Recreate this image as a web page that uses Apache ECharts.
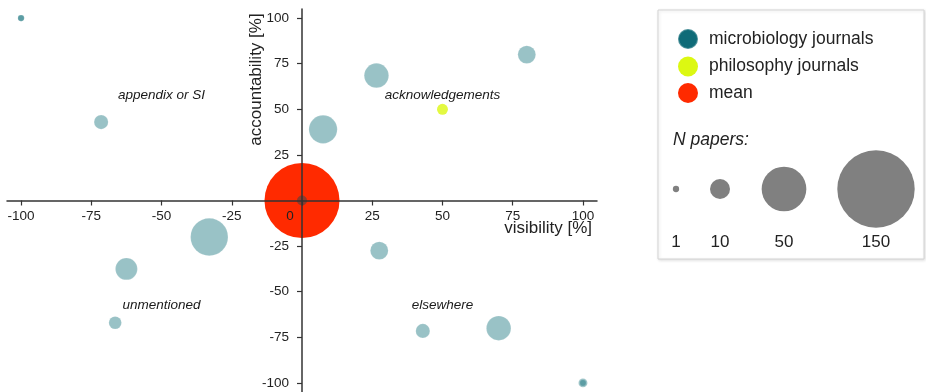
<!DOCTYPE html>
<html><head><meta charset="utf-8">
<script src="https://cdn.jsdelivr.net/npm/echarts@6/dist/echarts.min.js"></script>
<style>html,body{margin:0;padding:0;background:#fff}#c{width:926px;height:392px}</style>
</head><body><div id="c"></div>
<script>
// ---- data ----
const microVisibility     = [-100, -100, -71.5, 7.5, 26.5, 80, -33, -62.5, -66.5, 27.5, 43, 70, 100, 100];
const microAccountability = [100, 100, 43, 39, 68.5, 80, -20, -37.5, -67, -27.5, -71.5, -70, -100, -100];
const microPapers         = [1, 1, 5, 20, 15, 8, 35, 12, 4, 8, 5, 15, 2, 1];
const philoVisibility     = [50];
const philoAccountability = [50];
const philoPapers         = [3];
const meanVisibility      = [0];
const meanAccountability  = [0];
const meanPapers          = [141];
const originVisibility    = [0];
const originAccountability= [0];
const xTicks = [-100, -75, -50, -25, 0, 25, 50, 75, 100];
const yTicks = [-100, -75, -50, -25, 25, 50, 75, 100];
const sizeLegendPapers = [1, 10, 50, 150];
const annotationTexts = ['appendix or SI', 'acknowledgements', 'unmentioned', 'elsewhere'];
const annotationVisibility = [-50, 50, -50, 50];
const annotationAccountability = [57.5, 57.5, -57.5, -57.5];
const seriesNames = ['microbiology journals', 'philosophy journals', 'mean'];

// ---- styling ----
const FONT = "'Liberation Sans', Arial, Helvetica, sans-serif";
const C_MICRO = '#0f6b78', C_PHILO = '#dcf812', C_MEAN = '#ff2a00';
const sizeOf = n => 6.32 * Math.sqrt(n);
const pts = (xs, ys, ns) => xs.map((x, i) => [x, ys[i], ns ? ns[i] : 0]);

const chart = echarts.init(document.getElementById('c'), null, {renderer: 'canvas'});

// grid geometry (layout only)
const G = {left: 7, right: 329, top: 9, bottom: 0};
const gridW = 926 - G.left - G.right, gridH = 392 - G.top - G.bottom;
const xZeroOffset = -gridW * (105 / 210);   // move y axis from left edge to x = 0
const yZeroOffset = -gridH * (105 / 210);   // move x axis from bottom edge to y = 0

const sizeLegendX = [676, 720, 784, 876];
const graphics = [
  {type: 'rect', z: 1, shape: {x: 658, y: 10, width: 266, height: 249},
   style: {fill: '#fff', stroke: '#d4d4d4', lineWidth: 1, shadowBlur: 3, shadowColor: 'rgba(0,0,0,0.12)', shadowOffsetX: 1, shadowOffsetY: 1}},
  {type: 'text', z: 5, x: 592, y: 228, style: {text: 'visibility [%]', fontFamily: FONT, fontSize: 17, fill: '#222', align: 'right', verticalAlign: 'middle'}},
  {type: 'text', z: 5, x: 256.5, y: 79.5, rotation: Math.PI / 2, style: {text: 'accountability [%]', fontFamily: FONT, fontSize: 17, fill: '#222', align: 'center', verticalAlign: 'middle'}},
  {type: 'text', z: 5, x: 673, y: 140, style: {text: 'N papers:', fontFamily: FONT, fontSize: 17.5, fontStyle: 'italic', fill: '#222', align: 'left', verticalAlign: 'middle'}}
];
sizeLegendPapers.forEach((n, i) => {
  graphics.push({type: 'circle', z: 5, shape: {cx: sizeLegendX[i], cy: 189, r: sizeOf(n) / 2}, style: {fill: '#808080'}});
  graphics.push({type: 'text', z: 5, x: sizeLegendX[i], y: 242, style: {text: String(n), fontFamily: FONT, fontSize: 17, fill: '#222', align: 'center', verticalAlign: 'middle'}});
});

const axisCommon = {
  type: 'value', min: -105, max: 105, z: 10,
  splitLine: {show: false},
  axisLine: {onZero: false, lineStyle: {color: '#333', width: 1.5}},
  axisTick: {length: 5, lineStyle: {color: '#333', width: 1.2}},
};

chart.setOption({
  animation: false,
  backgroundColor: '#fff',
  textStyle: {fontFamily: FONT},
  grid: Object.assign({containLabel: false, outerBoundsMode: 'none'}, G),
  xAxis: Object.assign({}, axisCommon, {
    position: 'bottom', offset: yZeroOffset,
    axisTick: Object.assign({}, axisCommon.axisTick, {customValues: xTicks}),
    axisLabel: {customValues: xTicks, margin: 8.5, fontSize: 13.5, color: '#222', fontFamily: FONT,
      formatter: v => v === 0 ? '{z|0}' : String(v),
      rich: {z: {fontSize: 13.5, color: '#222', fontFamily: FONT, padding: [0, 24, 0, 0]}}}
  }),
  yAxis: Object.assign({}, axisCommon, {
    position: 'left', offset: xZeroOffset,
    axisTick: Object.assign({}, axisCommon.axisTick, {customValues: yTicks}),
    axisLabel: {customValues: yTicks, margin: 13, fontSize: 13.5, color: '#222', fontFamily: FONT}
  }),
  legend: {
    orient: 'vertical', left: 672, top: 23, z: 6,
    itemWidth: 20, itemHeight: 20, itemGap: 6.5, icon: 'circle',
    textStyle: {fontSize: 17.5, color: '#222', fontFamily: FONT, padding: [0, 0, 0, 6]},
    data: [
      {name: seriesNames[0], itemStyle: {color: C_MICRO, opacity: 1}},
      {name: seriesNames[1], itemStyle: {color: C_PHILO, opacity: 1}},
      {name: seriesNames[2], itemStyle: {color: C_MEAN, opacity: 1}}
    ]
  },
  graphic: graphics,
  series: [
    {name: seriesNames[2], type: 'scatter', z: 2,
     data: pts(meanVisibility, meanAccountability, meanPapers),
     symbolSize: d => sizeOf(d[2]),
     itemStyle: {color: C_MEAN, opacity: 1}},
    {name: 'origin', type: 'scatter', z: 3, silent: true,
     data: pts(originVisibility, originAccountability),
     symbolSize: 10,
     itemStyle: {color: 'rgba(70,70,70,0.75)'}},
    {name: seriesNames[0], type: 'scatter', z: 3,
     data: pts(microVisibility, microAccountability, microPapers),
     symbolSize: d => sizeOf(d[2]),
     itemStyle: {color: 'rgba(0,102,112,0.5)', borderColor: 'rgba(255,255,255,0.25)', borderWidth: 0.6}},
    {name: seriesNames[1], type: 'scatter', z: 3,
     data: pts(philoVisibility, philoAccountability, philoPapers),
     symbolSize: d => sizeOf(d[2]),
     itemStyle: {color: C_PHILO}},
    {name: 'annotations', type: 'scatter', z: 4, silent: true,
     data: annotationTexts.map((t, i) => ({name: t, value: [annotationVisibility[i], annotationAccountability[i]]})),
     symbolSize: 1, itemStyle: {color: 'rgba(0,0,0,0)'},
     label: {show: true, position: 'inside', formatter: '{b}', fontStyle: 'italic', fontSize: 13.5, color: '#1a1a1a', opacity: 1, textBorderWidth: 0, fontFamily: FONT}}
  ]
});
</script></body></html>
